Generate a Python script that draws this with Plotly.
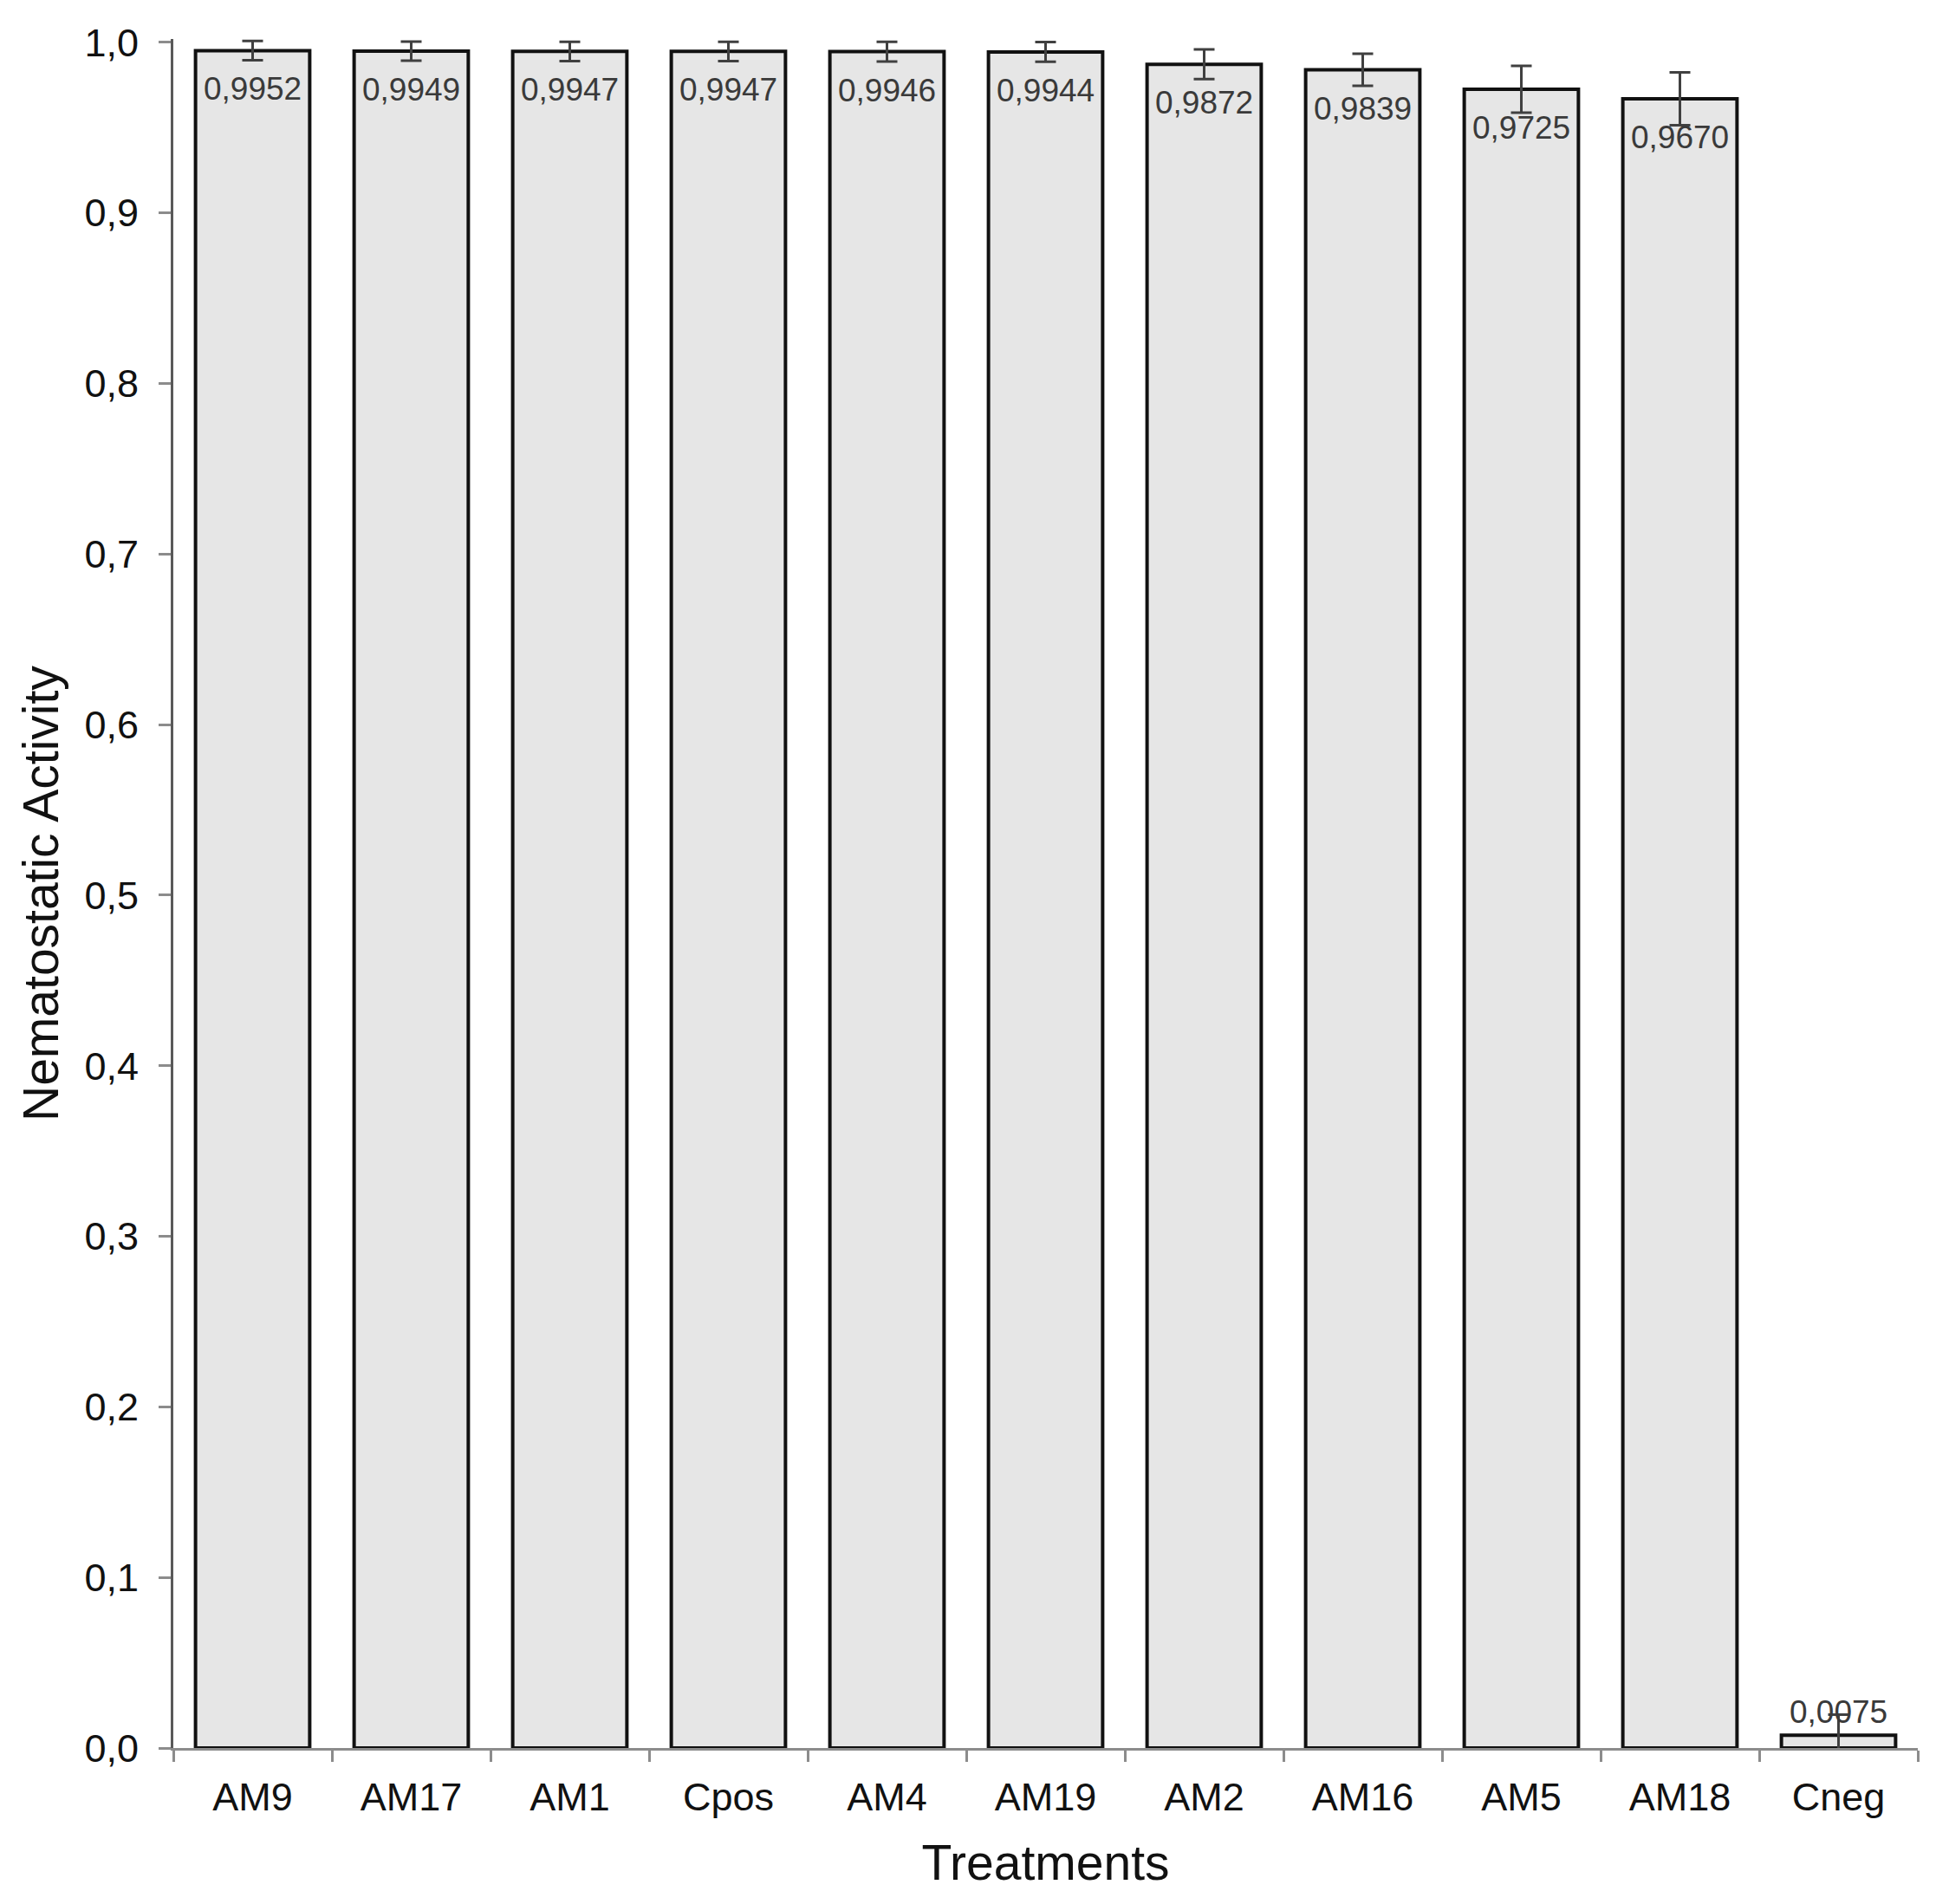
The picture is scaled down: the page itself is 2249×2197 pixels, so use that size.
import plotly.graph_objects as go

# datos
treatments = ["AM9", "AM17", "AM1", "Cpos", "AM4", "AM19", "AM2", "AM16", "AM5", "AM18", "Cneg"]
activity = [0.9952, 0.9949, 0.9947, 0.9947, 0.9946, 0.9944, 0.9872, 0.9839, 0.9725, 0.9670, 0.0075]
err = [0.0056, 0.0056, 0.0056, 0.0056, 0.0058, 0.0058, 0.0087, 0.0094, 0.0137, 0.0155, 0.0120]
y_ticks = [0.0, 0.1, 0.2, 0.3, 0.4, 0.5, 0.6, 0.7, 0.8, 0.9, 1.0]

FONT = "Arial, Liberation Sans, sans-serif"

fig = go.Figure()
fig.add_bar(
    x=treatments,
    y=activity,
    marker=dict(color="#e6e6e6", line=dict(color="#111111", width=4)),
    error_y=dict(type="data", array=err, visible=True,
                 color="#404040", thickness=3, width=12),
    showlegend=False,
)

# etiquetas de valor (dentro de la barra, o encima si es muy baja)
annotations = []
for t, v in zip(treatments, activity):
    label = f"{v:.4f}".replace(".", ",")
    inside = v > 0.5
    annotations.append(dict(
        x=t, y=v, xref="x", yref="y",
        text=label, showarrow=False,
        yanchor="top" if inside else "bottom",
        yshift=-22 if inside else 4,
        font=dict(family=FONT, size=37, color="#3a3a3a"),
    ))

# título del eje Y como anotación para colocarlo más a la izquierda
annotations.append(dict(
    x=0, y=0.5, xref="paper", yref="paper",
    xanchor="center", yanchor="middle", xshift=-153,
    text="Nematostatic Activity", textangle=-90, showarrow=False,
    font=dict(family=FONT, size=57, color="#111111"),
))

# la página añade 8px de margen al body -> se compensa aquí
fig.update_layout(
    width=2241, height=2189,
    paper_bgcolor="white", plot_bgcolor="white",
    separators=", ",
    font=dict(family=FONT, color="#111111"),
    margin=dict(l=192, r=36, t=37, b=180),
    bargap=0.28,
    annotations=annotations,
    xaxis=dict(
        title=dict(text="Treatments", font=dict(size=57, color="#111111"), standoff=32),
        tickfont=dict(size=45, color="#111111"),
        showline=True, linecolor="#8c8c8c", linewidth=3,
        ticks="outside", tickson="boundaries", ticklen=13, tickwidth=3, tickcolor="#8c8c8c",
        ticklabelstandoff=15,
        showgrid=False, automargin=False,
    ),
    yaxis=dict(
        range=[0, 1.002],
        tickvals=y_ticks, tickformat=".1f",
        tickfont=dict(size=45, color="#111111"),
        showline=True, linecolor="#595959", linewidth=3,
        ticks="outside", ticklen=14, tickwidth=3, tickcolor="#8c8c8c",
        ticklabelstandoff=14,
        showgrid=False, zeroline=False, automargin=False,
    ),
)

fig.write_html("out.html")
